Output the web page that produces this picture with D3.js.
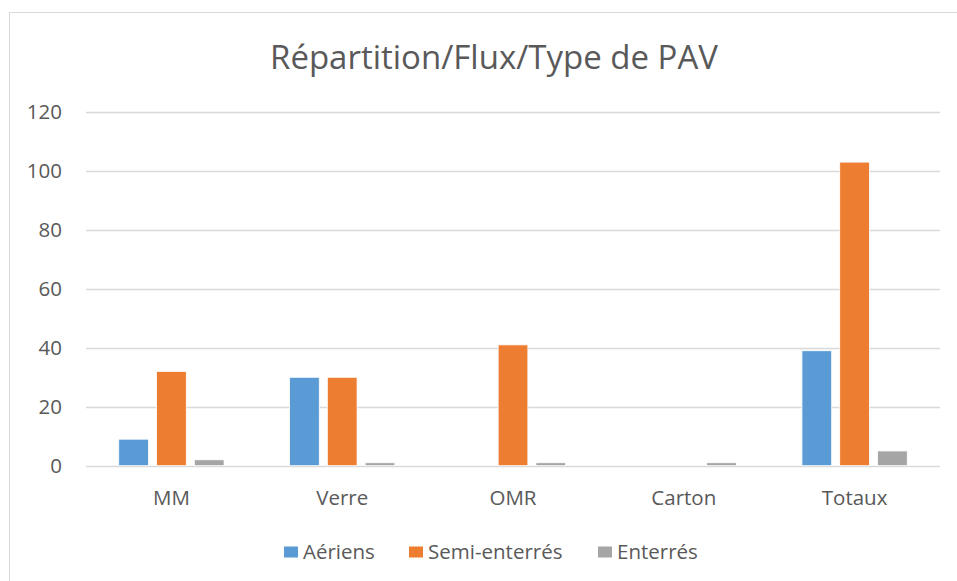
<!DOCTYPE html>
<html>
<head>
<meta charset="utf-8">
<script src="https://cdn.jsdelivr.net/npm/d3@7"></script>
<style>
  body { margin: 0; background: #fff; }
  text { font-family: "Open Sans", sans-serif; fill: #595959; }
</style>
</head>
<body>
<div id="chart"></div>
<script>
const categories = ["MM", "Verre", "OMR", "Carton", "Totaux"];
const seriesNames = ["Aériens", "Semi-enterrés", "Enterrés"];
const aeriens = [9, 30, 0, 0, 39];
const semiEnterres = [32, 30, 41, 0, 103];
const enterres = [2, 1, 1, 1, 5];
const yTicks = [0, 20, 40, 60, 80, 100, 120];
const colors = ["#5B9BD5", "#ED7D31", "#A5A5A5"];

const allSeries = [aeriens, semiEnterres, enterres];

const width = 957, height = 581;
const svg = d3.select("#chart")
  .append("svg")
  .attr("width", width)
  .attr("height", height);

// chart frame (right and bottom edges fall outside the picture)
svg.append("rect")
  .attr("x", 9.5)
  .attr("y", 12.5)
  .attr("width", 1000)
  .attr("height", 600)
  .attr("fill", "#fff")
  .attr("stroke", "#d9d9d9");

svg.append("text")
  .attr("x", 494)
  .attr("y", 69)
  .attr("text-anchor", "middle")
  .style("font-size", "33px")
  .text("Répartition/Flux/Type de PAV");

const x0 = d3.scaleBand()
  .domain(categories)
  .range([86, 940]);

const y = d3.scaleLinear()
  .domain([0, 120])
  .range([465.7, 112]);

// gridlines
svg.append("g")
  .selectAll("line")
  .data(yTicks)
  .enter()
  .append("line")
  .attr("x1", 86)
  .attr("x2", 940)
  .attr("y1", function (d) { return Math.round(y(d)) + 0.5; })
  .attr("y2", function (d) { return Math.round(y(d)) + 0.5; })
  .attr("stroke", "#d9d9d9")
  .attr("stroke-width", 1.3);

// y labels
svg.append("g")
  .selectAll("text")
  .data(yTicks)
  .enter()
  .append("text")
  .attr("x", 62)
  .attr("y", function (d) { return y(d); })
  .attr("dy", "0.36em")
  .attr("text-anchor", "end")
  .style("font-size", "20.5px")
  .text(function (d) { return d; });

// bars: width w, gap between bars 0.27w, gap width 220%
const band = x0.bandwidth();
const w = band / (3 + 2 * 0.27 + 2.2);
const step = w * 1.27;

const groups = svg.append("g")
  .selectAll("g")
  .data(categories)
  .enter()
  .append("g")
  .attr("transform", function (d) {
    return "translate(" + (x0(d) + band / 2) + ",0)";
  });

groups.selectAll("rect")
  .data(function (d, i) {
    return allSeries.map(function (s, k) { return { k: k, v: s[i] }; });
  })
  .enter()
  .append("rect")
  .filter(function (d) { return d.v > 0; })
  .attr("x", function (d) { return (d.k - 1) * step - w / 2; })
  .attr("y", function (d) { return y(d.v); })
  .attr("width", w)
  .attr("height", function (d) { return y(0) - y(d.v); })
  .attr("fill", function (d) { return colors[d.k]; })
  .attr("stroke", "#fff")
  .attr("stroke-width", 0.8);

// x labels
svg.append("g")
  .selectAll("text")
  .data(categories)
  .enter()
  .append("text")
  .attr("x", function (d) { return x0(d) + band / 2; })
  .attr("y", 498)
  .attr("dy", "0.36em")
  .attr("text-anchor", "middle")
  .style("font-size", "20.5px")
  .text(function (d) { return d; });

// legend
const legendX = [284, 409, 598];
const legend = svg.append("g")
  .selectAll("g")
  .data(seriesNames)
  .enter()
  .append("g")
  .attr("transform", function (d, i) { return "translate(" + legendX[i] + ",546.5)"; });

legend.append("rect")
  .attr("width", 14)
  .attr("height", 11)
  .attr("fill", function (d, i) { return colors[i]; });

legend.append("text")
  .attr("x", 19)
  .attr("y", 5.5)
  .attr("dy", "0.36em")
  .style("font-size", "20.5px")
  .text(function (d) { return d; });
</script>
</body>
</html>
